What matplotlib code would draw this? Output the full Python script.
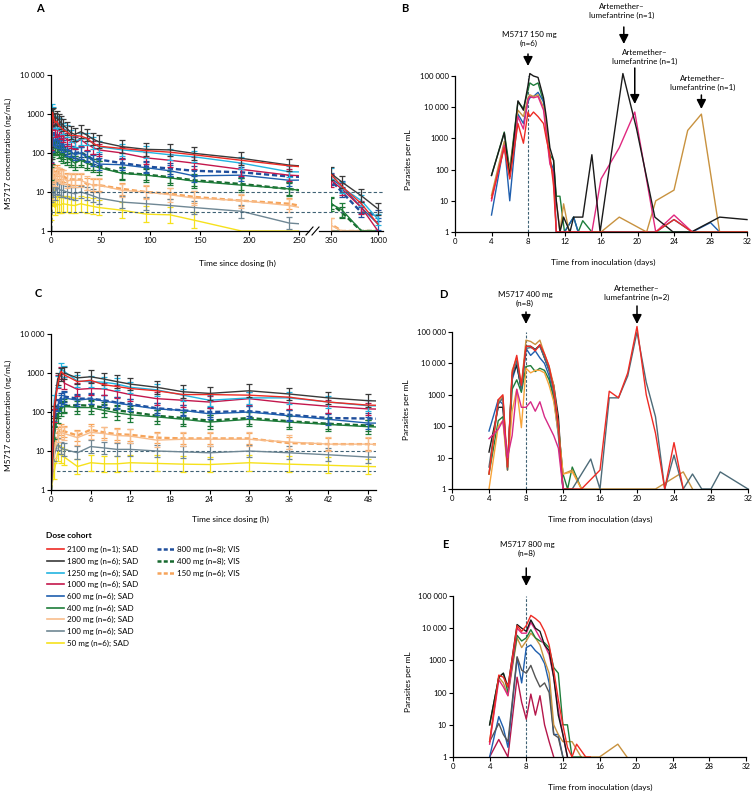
import matplotlib
matplotlib.use("Agg")
import matplotlib.pyplot as plt
import matplotlib.transforms as mtransforms
from matplotlib.lines import Line2D
import numpy as np

plt.rcParams['font.family'] = ['Lato', 'DejaVu Sans']

# ---------------- data ----------------
# PK sampling times (h)
PK_TIMES = [0, 0.5, 1, 1.5, 2, 4, 6, 8, 10, 12, 16, 20, 24, 30, 36, 42, 48,
            72, 96, 120, 144, 192, 240, 350, 500, 770, 1000]

COHORTS = ["2100 mg (n=1); SAD", "1800 mg (n=6); SAD", "1250 mg (n=6); SAD",
           "1000 mg (n=6); SAD", "600 mg (n=6); SAD", "400 mg (n=6); SAD",
           "200 mg (n=6); SAD", "100 mg (n=6); SAD", "50 mg (n=6); SAD",
           "800 mg (n=8); VIS", "400 mg (n=8); VIS", "150 mg (n=6); VIS"]

# geometric mean concentrations (ng/mL), one list per cohort
CONC_2100 = [1, 150, 500, 1100, 900, 600, 650, 500, 450, 400, 350, 280, 280, 270, 240, 180, 150,
             130, 115, 105, 90, 65, 47, 28, 14, 5, 1.5]
CONC_1800 = [1, 100, 700, 900, 1000, 750, 800, 700, 600, 520, 430, 330, 300, 350, 290, 230, 195,
             145, 124, 120, 98, 73, 49, 30, 18, 8, 3.7]
CONC_1250 = [1, 200, 600, 1300, 1100, 620, 600, 580, 520, 430, 370, 270, 200, 230, 230, 180, 145,
             120, 105, 90, 80, 55, 33, 30, 13, 6, 2]
CONC_1000 = [1, 80, 600, 1000, 550, 380, 400, 390, 330, 280, 220, 200, 180, 220, 170, 140, 120,
             100, 75, 65, 55, 38, 27, 20, 12, 4, 1]
CONC_600 = [1, 80, 150, 200, 230, 200, 220, 190, 170, 150, 120, 110, 90, 100, 80, 65, 52,
            50, 42, 35, 26, 27, 20, 22, 14, 4, 1.5]
CONC_400 = [1, 30, 80, 120, 140, 130, 130, 110, 95, 85, 75, 65, 55, 65, 55, 48, 42,
            30, 27, 23, 19, 15, 12, 5, 3.5, 1, 1]
CONC_200 = [1, 10, 25, 30, 28, 22, 30, 28, 25, 24, 19, 20, 20, 20, 17, 15, 15,
            11, 10, 8.5, 7, 6, 4.5, 1.4, 1, 1, 1]
CONC_100 = [1, 8, 15, 12, 11, 9, 13, 12, 11, 11, 10, 9.5, 9, 10, 9, 8, 7,
            5.5, 5, 4.5, 4, 3.2, 1.6, 1, 1, 1, 1]
CONC_50 = [1, 3, 9, 8, 7, 4, 5, 4.7, 4.7, 5, 4.8, 4.6, 4.5, 5, 4.6, 4.3, 4,
           3.4, 2.7, 2.6, 1.9, 1, 1, 1, 1, 1, 1]
CONC_800V = [1, 60, 150, 230, 250, 220, 220, 200, 175, 160, 125, 110, 100, 105, 85, 70, 68,
             55, 45, 40, 35, 32, 25, 20, 10, 3, 2.5]
CONC_400V = [1, 30, 100, 130, 140, 150, 145, 130, 110, 100, 80, 70, 60, 70, 58, 50, 45,
             31, 28, 24, 20, 16, 12, 5, 3, 1, 1]
CONC_150V = [1, 15, 30, 35, 32, 25, 35, 30, 27, 26, 22, 21, 21, 21, 16, 15, 15,
             12, 10, 9, 7.5, 6, 5, 1.5, 1, 1, 1]
# typical relative spread of the error bars per cohort
ERR_CV = [0, 0.45, 0.4, 0.45, 0.4, 0.5, 0.5, 0.45, 0.6, 0.35, 0.4, 0.4]
LLOQ = [10, 3]

# parasitaemia, panel B (150 mg)
B_DAYS = [
    [4, 5.4, 6, 6.9, 7.5, 8, 8.2, 8.6, 9.1, 9.7, 10, 10.4, 10.8, 11.1, 11.5, 12, 13, 13.5, 14, 15, 32],
    [4, 5.4, 6, 6.9, 7.5, 8, 8.2, 8.6, 9.1, 9.7, 10, 10.4, 10.8, 11.1, 12, 13, 13.5, 14, 22, 24, 26, 28, 29, 32],
    [4, 5.4, 6, 6.9, 7.5, 8, 8.2, 8.6, 9.1, 9.7, 10, 10.4, 10.8, 11.1, 11.5, 11.9, 12.5, 16, 18, 21, 22, 24,
     25.5, 27, 29, 32],
    [4, 5.4, 6, 6.9, 7.5, 8, 8.2, 8.6, 9.1, 9.7, 10, 10.4, 10.8, 11.1, 15, 16, 18, 19.7, 22, 24, 26],
    [4, 5.4, 6, 6.9, 7.5, 8, 8.2, 8.6, 9.1, 9.7, 10, 10.4, 10.8, 11.1, 11.5, 11.9, 12.6, 13, 14, 15, 15.9,
     18.4, 19.9, 21.9, 23.9, 25.9, 29, 32],
    [4, 5.4, 6, 6.9, 7.5, 8, 8.2, 8.6, 9.1, 9.7, 10, 10.4, 10.8, 11.1, 22, 24, 26, 32],
]
B_COUNTS = [
    [65, 1600, 100, 15000, 9000, 35000, 60000, 50000, 60000, 15000, 3000, 300, 200, 14, 14, 1, 3, 1, 2.3, 1, 1],
    [3.5, 700, 10, 6000, 3000, 15000, 20000, 22000, 30000, 15000, 2000, 200, 100, 1, 1, 3, 1, 1, 1, 2.5, 1, 2, 1, 1],
    [15, 800, 100, 8000, 5000, 20000, 25000, 22000, 25000, 10000, 3000, 200, 50, 10, 1, 8, 1, 1, 3, 1, 10, 22,
     1800, 6000, 1, 1],
    [10, 600, 60, 5000, 2000, 18000, 22000, 20000, 22000, 8000, 1500, 150, 80, 1, 1, 50, 500, 7000, 1, 3.5, 1],
    [65, 1500, 60, 16000, 8000, 50000, 120000, 100000, 90000, 20000, 5000, 500, 200, 10, 1, 3, 1, 3, 3, 300, 1,
     120000, 2000, 3, 1, 1, 3, 2.5],
    [12, 500, 50, 3000, 700, 7000, 5000, 7000, 5000, 3000, 1000, 300, 30, 1, 1, 2.5, 1, 1],
]

# panel D (400 mg)
D_EARLY = [4, 5, 5.5, 6, 6.5, 7, 7.5, 8, 8.5, 9, 9.5, 10, 10.5, 11, 11.5, 12]
D_DAYS = [
    D_EARLY,
    D_EARLY,
    D_EARLY + [12.5, 13, 14],
    D_EARLY + [13, 14, 22, 25, 26],
    D_EARLY + [13, 14],
    D_EARLY + [13, 15, 16, 17, 18, 19, 20, 21, 22, 23, 24, 25, 26, 27, 28, 29, 32],
    D_EARLY + [14, 16, 17, 18, 19, 20, 21, 22, 23, 24, 25],
    D_EARLY,
]
D_COUNTS = [
    [70, 700, 500, 5, 3000, 9000, 1500, 30000, 18000, 25000, 15000, 10000, 4000, 800, 50, 1],
    [15, 400, 400, 5, 4000, 9000, 1500, 35000, 35000, 28000, 38000, 15000, 6000, 2000, 200, 1],
    [3, 150, 200, 5, 1500, 3000, 1200, 8000, 8500, 5500, 7000, 6000, 3000, 800, 100, 3, 1, 5, 1],
    [3, 600, 900, 4, 6000, 15000, 2000, 55000, 50000, 40000, 55000, 20000, 8000, 2000, 100, 3, 4, 1, 1, 3.5, 1],
    [1, 100, 150, 4, 300, 1500, 90, 7000, 5000, 6000, 6000, 5000, 2000, 600, 60, 3, 3.5, 1],
    [5, 500, 800, 4, 4000, 12000, 1500, 30000, 32000, 28000, 35000, 15000, 6000, 1200, 80, 1, 1, 9, 1, 800,
     800, 4000, 100000, 2500, 200, 1, 12, 1, 3, 1, 1, 3.5, 1],
    [3, 700, 1000, 5, 5000, 18000, 2000, 35000, 35000, 25000, 40000, 20000, 8000, 1500, 100, 1, 1, 4, 1300,
     800, 5000, 150000, 1000, 60, 1, 30, 1],
    [40, 80, 150, 10, 50, 1500, 400, 400, 600, 300, 600, 200, 100, 50, 20, 1],
]

# panel E (800 mg)
E_EARLY = [4, 5, 5.5, 6, 7, 7.5, 8, 8.5, 9, 9.5, 10, 10.5, 11, 11.5, 12]
E_DAYS = [
    [4, 5, 6, 7, 7.5, 8, 8.5, 9, 9.5, 10, 10.5, 11],
    E_EARLY,
    E_EARLY,
    E_EARLY + [13, 14, 16, 18, 19],
    E_EARLY + [12.5, 13, 14],
    E_EARLY + [12.5],
    E_EARLY + [12.5],
    E_EARLY + [12.5, 13, 13.5, 14.5, 15],
]
E_COUNTS = [
    [1, 3.5, 1, 300, 50, 15, 90, 20, 80, 10, 3, 1],
    [1, 18, 8, 2, 1200, 200, 2500, 3000, 2000, 1500, 800, 200, 5, 5, 1],
    [3, 11, 5, 3, 1300, 500, 400, 700, 300, 150, 200, 100, 5, 4, 1],
    [3, 300, 200, 80, 5000, 2500, 4000, 7000, 5000, 3000, 1000, 400, 10, 5, 3, 3, 1, 1, 2.5, 1],
    [10, 300, 400, 100, 6000, 4000, 5000, 9000, 5000, 4000, 3500, 2500, 600, 400, 10, 10, 1, 1],
    [2.5, 250, 150, 80, 10000, 7000, 7000, 15000, 9000, 5000, 3000, 1500, 300, 30, 5, 1],
    [10, 300, 400, 150, 13000, 10000, 8000, 18000, 10000, 8000, 3000, 2000, 300, 20, 5, 1],
    [3, 350, 300, 150, 12000, 8000, 12000, 25000, 20000, 15000, 8000, 3000, 500, 60, 10, 2, 1, 2.5, 1, 1],
]

# ---------------- style ----------------
PK_COLORS = ['#ee2b24', '#3a3a3a', '#22b4e0', '#c3174c', '#1f5fae', '#1e7d3a',
             '#f8bd8c', '#6f8794', '#f6e11c', '#1f4e9c', '#17692e', '#f6a45a']
PK_DASHED = [False] * 9 + [True] * 3
B_COLORS = ['#1e7d3a', '#1f5fae', '#c8923f', '#e0287f', '#1a1a1a', '#ee2b24']
D_COLORS = ['#1f5fae', '#1a1a1a', '#1e7d3a', '#c8923f', '#f7a43a', '#4d6b78', '#ee2b24', '#d62a86']
E_COLORS = ['#b5174b', '#1f5fae', '#555555', '#c8923f', '#1e7d3a', '#e0287f', '#1a1a1a', '#ee2b24']
REF_C = '#3f6275'

W, H = 755, 792
fig = plt.figure(figsize=(W / 100, H / 100), dpi=100)


def rect(x0, y0, x1, y1):
    return [x0 / W, 1 - y1 / H, (x1 - x0) / W, (y1 - y0) / H]


def px(x, y):
    return x / W, 1 - y / H


def style(ax, yt, ylab):
    ax.set_yscale('log')
    ax.minorticks_off()
    ax.set_yticks(yt)
    ax.set_yticklabels(ylab)
    for s in ['top', 'right']:
        ax.spines[s].set_visible(False)
    for s in ['left', 'bottom']:
        ax.spines[s].set_linewidth(0.9)
    ax.tick_params(direction='out', length=3, width=0.8, pad=1.5, labelsize=5.6)


PK_YT = [1, 10, 100, 1000, 10000]
PK_YL = ['1', '10', '100', '1000', '10 000']
PAR_YT = [1, 10, 100, 1000, 10000, 100000]
PAR_YL = ['1', '10', '100', '1000', '10 000', '100 000']
ALL_CONC = [CONC_2100, CONC_1800, CONC_1250, CONC_1000, CONC_600, CONC_400, CONC_200,
            CONC_100, CONC_50, CONC_800V, CONC_400V, CONC_150V]


def draw_pk(ax):
    t = np.array(PK_TIMES, dtype=float)
    for i in range(len(ALL_CONC) - 1, -1, -1):
        v = np.array(ALL_CONC[i], dtype=float)
        c = PK_COLORS[i]
        if PK_DASHED[i]:
            ax.plot(t, v, color=c, lw=1.7, dashes=(2.2, 1.2))
        else:
            ax.plot(t, v, color=c, lw=1.0)
        if ERR_CV[i] > 0:
            m = v > 1
            hi = v * (1 + ERR_CV[i])
            lo = np.maximum(v / (1 + ERR_CV[i]), 1)
            ax.errorbar(t[m], v[m], yerr=[v[m] - lo[m], hi[m] - v[m]], fmt='none',
                        ecolor=c, elinewidth=0.9, capsize=2, capthick=0.9)


# ---------------- panel A ----------------
axA = fig.add_axes(rect(51, 75, 299, 231))
draw_pk(axA)
style(axA, PK_YT, PK_YL)
axA.set_xlim(0, 250)
axA.set_ylim(1, 10000)
axA.set_xticks([0, 50, 100, 150, 200, 250])

axA2 = fig.add_axes(rect(331, 75, 383, 231))
draw_pk(axA2)
style(axA2, PK_YT, PK_YL)
axA2.spines['left'].set_visible(False)
axA2.tick_params(axis='y', left=False, labelleft=False)
axA2.set_xlim(350, 1000 + 5 * 650 / 47)
axA2.set_ylim(1, 10000)
axA2.set_xticks([350, 1000])

# broken axis and reference lines across the gap
fig.add_artist(Line2D([299 / W, 309 / W], [1 - 231 / H] * 2, color='black', lw=0.9))
fig.add_artist(Line2D([319 / W, 331 / W], [1 - 231 / H] * 2, color='black', lw=0.9))
for xs in (306, 312):
    fig.add_artist(Line2D([xs / W, (xs + 7) / W], [1 - 235 / H, 1 - 227 / H], color='black', lw=0.8))
trA = mtransforms.blended_transform_factory(fig.transFigure, axA.transData)
for lv in LLOQ:
    fig.add_artist(Line2D([51 / W, 383 / W], [lv, lv], transform=trA, color=REF_C,
                          lw=0.8, dashes=(3, 2)))

fig.text(*px(40, 8), 'A', fontsize=8, fontweight='bold', ha='center', va='center')
fig.text(*px(237, 263), 'Time since dosing (h)', fontsize=6, ha='center', va='center')
fig.text(*px(8, 153), 'M5717 concentration (ng/mL)', fontsize=6, ha='center', va='center',
         rotation=90)

# ---------------- panel C ----------------
axC = fig.add_axes(rect(51, 334, 376, 490))
draw_pk(axC)
style(axC, PK_YT, PK_YL)
for lv in LLOQ:
    axC.axhline(lv, color=REF_C, lw=0.8, dashes=(3, 2), zorder=0.5)
axC.set_xlim(0, 49.2)
axC.set_ylim(1, 10000)
axC.set_xticks(range(0, 49, 6))
fig.text(*px(38, 293), 'C', fontsize=8, fontweight='bold', ha='center', va='center')
fig.text(*px(230, 519), 'Time since dosing (h)', fontsize=6, ha='center', va='center')
fig.text(*px(8, 415), 'M5717 concentration (ng/mL)', fontsize=6, ha='center', va='center',
         rotation=90)

# legend (two columns, fig.legend registers both itself)
handles = []
for i in range(len(COHORTS)):
    if PK_DASHED[i]:
        handles.append(Line2D([], [], color=PK_COLORS[i], lw=1.8, dashes=(1.6, 0.9)))
    else:
        handles.append(Line2D([], [], color=PK_COLORS[i], lw=1.2))
fig.text(*px(46, 536), 'Dose cohort', fontsize=6, fontweight='bold', ha='left', va='center')
leg_kw = dict(loc='upper left', frameon=False, handlelength=2.1, handletextpad=0.4,
              labelspacing=0.56, borderpad=0, borderaxespad=0,
              prop={'size': 5.8, 'weight': 'normal'})
fig.legend(handles[:9], COHORTS[:9], bbox_to_anchor=px(47, 546), **leg_kw)
fig.legend(handles[9:], COHORTS[9:], bbox_to_anchor=px(157, 546), **leg_kw)


# ---------------- parasite panels ----------------
def draw_par(ax, days, counts, colors):
    ax.axvline(8, color=REF_C, lw=0.8, dashes=(2.5, 1.5), zorder=0.5)
    for d, c, col in zip(days, counts, colors):
        ax.plot(d, c, color=col, lw=1.0, clip_on=False)
    style(ax, PAR_YT, PAR_YL)
    ax.set_xlim(0, 32)
    ax.set_ylim(1, 100000)
    ax.set_xticks(range(0, 33, 4))


def arrow(ax, day, y0, y1):
    ax.annotate('', xy=(day, H - y1), xycoords=('data', 'figure pixels'),
                xytext=(day, H - y0), textcoords=('data', 'figure pixels'),
                arrowprops=dict(arrowstyle='-|>,head_length=0.55,head_width=0.28',
                                color='black', lw=1.1, shrinkA=0, shrinkB=0))


axB = fig.add_axes(rect(455, 76, 747, 232))
draw_par(axB, B_DAYS, B_COUNTS, B_COLORS)
fig.text(*px(405, 8), 'B', fontsize=8, fontweight='bold', ha='center', va='center')
fig.text(*px(529, 39), 'M5717 150 mg\n(n=6)', fontsize=5.8, ha='center', va='center', linespacing=1.25)
arrow(axB, 8, 54, 66)
fig.text(*px(622, 11), 'Artemether–\nlumefantrine (n=1)', fontsize=5.8, ha='center', va='center',
         linespacing=1.25)
arrow(axB, 18.5, 27, 44)
fig.text(*px(645, 57), 'Artemether–\nlumefantrine (n=1)', fontsize=5.8, ha='center', va='center',
         linespacing=1.25)
arrow(axB, 19.7, 68, 104)
fig.text(*px(703, 83), 'Artemether–\nlumefantrine (n=1)', fontsize=5.8, ha='center', va='center',
         linespacing=1.25)
arrow(axB, 27, 95, 109)
fig.text(*px(603, 262), 'Time from inoculation (days)', fontsize=6, ha='center', va='center')
fig.text(*px(408, 160), 'Parasites per mL', fontsize=6, ha='center', va='center', rotation=90)

axD = fig.add_axes(rect(452, 332, 748, 489))
draw_par(axD, D_DAYS, D_COUNTS, D_COLORS)
fig.text(*px(443, 295), 'D', fontsize=8, fontweight='bold', ha='center', va='center')
fig.text(*px(525, 299), 'M5717 400 mg\n(n=8)', fontsize=5.8, ha='center', va='center', linespacing=1.25)
arrow(axD, 8, 312, 324)
fig.text(*px(637, 293), 'Artemether–\nlumefantrine (n=2)', fontsize=5.8, ha='center', va='center',
         linespacing=1.25)
arrow(axD, 20, 306, 324)
fig.text(*px(600, 519), 'Time from inoculation (days)', fontsize=6, ha='center', va='center')
fig.text(*px(407, 410), 'Parasites per mL', fontsize=6, ha='center', va='center', rotation=90)

axE = fig.add_axes(rect(453, 596, 746, 757))
draw_par(axE, E_DAYS, E_COUNTS, E_COLORS)
fig.text(*px(445, 545), 'E', fontsize=8, fontweight='bold', ha='center', va='center')
fig.text(*px(527, 549), 'M5717 800 mg\n(n=8)', fontsize=5.8, ha='center', va='center', linespacing=1.25)
arrow(axE, 8, 568, 586)
fig.text(*px(600, 787), 'Time from inoculation (days)', fontsize=6, ha='center', va='center')
fig.text(*px(408, 682), 'Parasites per mL', fontsize=6, ha='center', va='center', rotation=90)

fig.savefig('out.png', dpi=100, facecolor='white')
